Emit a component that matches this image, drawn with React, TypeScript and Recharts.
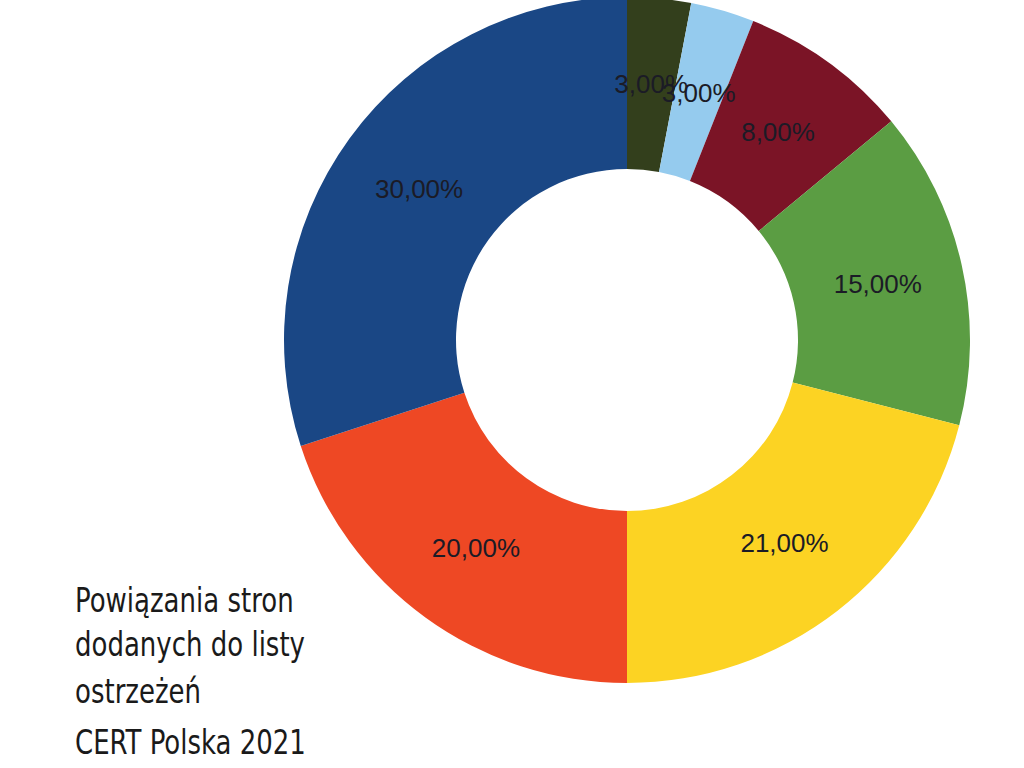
import React from "react"
import { PieChart, Pie, Cell } from "recharts"

const categories = ["A", "B", "C", "D", "E", "F", "G"]
const shares = [3, 3, 8, 15, 21, 20, 30]
const colors = ["#333f1c", "#95cbee", "#7b1426", "#5b9d43", "#fcd323", "#ee4824", "#1a4785"]
const titleLines = ["Powiązania stron", "dodanych do listy", "ostrzeżeń", "CERT Polska 2021"]

const data = categories.map((name, i) => ({ name, value: shares[i] }))

const RADIAN = Math.PI / 180

const renderLabel = (props: any) => {
  const { cx, cy, midAngle, innerRadius, outerRadius, value } = props
  const r = (innerRadius + outerRadius) / 2
  const x = cx + r * Math.cos(-midAngle * RADIAN)
  const y = cy + r * Math.sin(-midAngle * RADIAN)
  return (
    <text
      x={x}
      y={y}
      textAnchor="middle"
      dominantBaseline="central"
      fill="#1b1b26"
      fontSize={26}
      fontFamily="'Liberation Sans', Arial, sans-serif"
    >
      {value.toFixed(2).replace(".", ",") + "%"}
    </text>
  )
}

const titleTops = [580, 624, 671, 722]

export default function App() {
  return (
    <div style={{ position: "absolute", left: 0, top: 0, width: 1024, height: 768, background: "#fff", overflow: "hidden" }}>
      <PieChart width={1024} height={768} margin={{ top: 0, right: 0, bottom: 0, left: 0 }}>
        <Pie
          data={data}
          dataKey="value"
          nameKey="name"
          cx={627}
          cy={340}
          innerRadius={171}
          outerRadius={343}
          startAngle={90}
          endAngle={-270}
          stroke="none"
          label={renderLabel}
          labelLine={false}
          isAnimationActive={false}
        >
          {data.map((d, i) => (
            <Cell key={d.name} fill={colors[i]} />
          ))}
        </Pie>
      </PieChart>
      {titleLines.map((line, i) => (
        <div
          key={line}
          style={{
            position: "absolute",
            left: 75,
            top: titleTops[i],
            fontFamily: "'DejaVu Sans Condensed', 'DejaVu Sans', sans-serif",
            fontStretch: "condensed",
            fontSize: 34,
            lineHeight: "40px",
            color: "#1a1a1a",
            whiteSpace: "nowrap",
            transform: "scaleX(0.85)",
            transformOrigin: "left center",
          }}
        >
          {line}
        </div>
      ))}
    </div>
  )
}
